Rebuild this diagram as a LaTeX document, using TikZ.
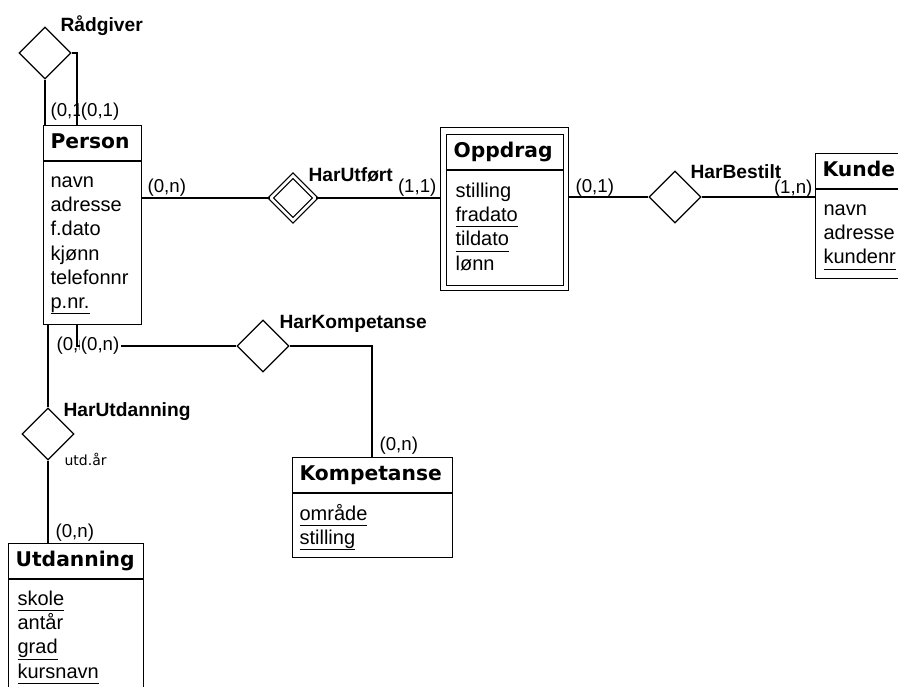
\documentclass[tikz,border=0pt]{standalone}
\usepackage{fontspec}
\setmainfont{Liberation Sans}
\newfontfamily\dejavu{DejaVu Sans}
\usetikzlibrary{shapes.geometric}
\usetikzlibrary{calc}

\def\px{0.75pt}
\newcommand\attrfont{\fontsize{15}{18.15}\selectfont}
\newcommand\headfont{\dejavu\bfseries\fontsize{15.2}{18}\selectfont}
\newcommand\relfont{\bfseries\fontsize{14.4}{16}\selectfont}
\newcommand\cardfont{\fontsize{14}{16}\selectfont}
\newcommand\notefont{\dejavu\fontsize{10.5}{12}\selectfont}
% key attributes: line a little below the baseline
\newcommand\keyattr[1]{\setbox0=\hbox{#1}\rlap{\rule[-4.3pt]{\wd0}{0.75pt}}\box0}

\begin{document}
\begin{tikzpicture}[x=\px,y=-\px,line width=0.9pt,
  ehead/.style={draw, rectangle, anchor=north west, font=\headfont, align=left,
    inner xsep=7*\px, inner ysep=0pt, text height=11pt, text depth=3pt, minimum height=35*\px},
  ebody/.style={draw, rectangle, anchor=north west, inner sep=0pt},
  attrs/.style={font=\attrfont, align=left, anchor=north west, inner sep=0pt},
  rel/.style={draw, diamond, inner sep=0pt, minimum width=52*\px, minimum height=52*\px},
  rellabel/.style={font=\relfont, anchor=base west, inner sep=0pt},
  card/.style={font=\cardfont, anchor=base west, inner sep=0pt},
  cardcover/.style={card, fill=white, inner xsep=1pt, inner ysep=1pt}]

\useasboundingbox (0,0) rectangle (898,686);
\clip (0,0) rectangle (898,686);

% entities
\node[ehead, text width=84*\px] (person) at (43,125) {Person};
\node[ebody, minimum width=98*\px, minimum height=163*\px] (personbody) at (person.south west) {};
\node[attrs] (personattr) at (50,170) {\strut navn\\adresse\\f.dato\\kjønn\\telefonnr\\\keyattr{p.nr.}};

\node[ebody, minimum width=128*\px, minimum height=163*\px] (oppdrag) at (440,127) {};
\node[ehead, text width=103*\px] (oppdraghead) at (446,134) {Oppdrag};
\node[ebody, minimum width=117*\px, minimum height=115*\px] (oppdragbody) at (oppdraghead.south west) {};
\node[attrs] (oppdragattr) at (455,180) {\strut stilling\\\keyattr{fradato}\\\keyattr{tildato}\\lønn};

\node[ehead, text width=110*\px] (kunde) at (815,153) {Kunde};
\node[ebody, minimum width=124*\px, minimum height=89*\px] (kundebody) at (kunde.south west) {};
\node[attrs] (kundeattr) at (823,198) {\strut navn\\adresse\\\keyattr{kundenr}};

\node[ehead, text width=146*\px] (kompetanse) at (292,457) {Kompetanse};
\node[ebody, minimum width=160*\px, minimum height=64*\px] (kompetansebody) at (kompetanse.south west) {};
\node[attrs] (kompetanseattr) at (299,503) {\strut\keyattr{område}\\\keyattr{stilling}};

\node[ehead, text width=121*\px] (utdanning) at (8,543) {Utdanning};
\node[ebody, minimum width=135*\px, minimum height=150*\px] (utdanningbody) at (utdanning.south west) {};
\node[attrs] (utdanningattr) at (17,588) {\strut\keyattr{skole}\\antår\\\keyattr{grad}\\\keyattr{kursnavn}};

% relationships
\node[rel] (raadgiver) at (45,53) {};
\node[rel, double, double distance=2pt, minimum width=45*\px, minimum height=45*\px] (harutfort) at (293,198) {};
\node[rel] (harbestilt) at (675,197) {};
\node[rel] (harkompetanse) at (263,346) {};
\node[rel] (harutdanning) at (48,434) {};

\draw (raadgiver.south) -- (raadgiver.south |- person.north);
\draw (raadgiver.east) -| ($(person.north west)+(34,0)$);
\draw (personbody.south -| harutdanning) -- (harutdanning.north);
\draw (harutdanning.south) -- (harutdanning.south |- utdanning.north);
\draw ($(personbody.south west)+(34,0)$) |- (harkompetanse.west);
\draw (harkompetanse.east) -| ($(kompetanse.north west)+(80,0)$);
\draw (personbody.east |- harutfort) -- (harutfort.west);
\draw (harutfort.east) -- (harutfort -| oppdrag.west);
\draw (oppdrag.east |- harbestilt) -- (harbestilt.west);
\draw (harbestilt.east) -- (harbestilt -| kunde.west);

\node[rellabel] (raadgiverlabel) at (60,31) {Rådgiver};
\node[rellabel] (harutfortlabel) at (308,181) {HarUtført};
\node[rellabel] (harbestiltlabel) at (690,178) {HarBestilt};
\node[rellabel] (harkompetanselabel) at (279,328) {HarKompetanse};
\node[rellabel] (harutdanninglabel) at (63,416) {HarUtdanning};
\node[font=\notefont, anchor=base west, inner sep=0pt] (utdaar) at (64,465) {utd.år};

% cardinalities
\node[card] (cardraad1) at (50,116) {(0,1)};
\node[cardcover] (cardraad2) at (79,116) {(0,1)};
\node[card] (cardpersonutf) at (147,192) {(0,n)};
\node[card, anchor=base east] (cardoppdragutf) at (437,192) {(1,1)};
\node[card] (cardoppdragbest) at (575,192) {(0,1)};
\node[card, anchor=base east] (cardkundebest) at (813,193) {(1,n)};
\node[card] (cardpersonutd) at (56,350) {(0,n)};
\node[cardcover] (cardpersonkomp) at (79,350) {(0,n)};
\node[card] (cardkompetanse) at (379,450) {(0,n)};
\node[card] (cardutdanning) at (55,537) {(0,n)};

\end{tikzpicture}
\end{document}
